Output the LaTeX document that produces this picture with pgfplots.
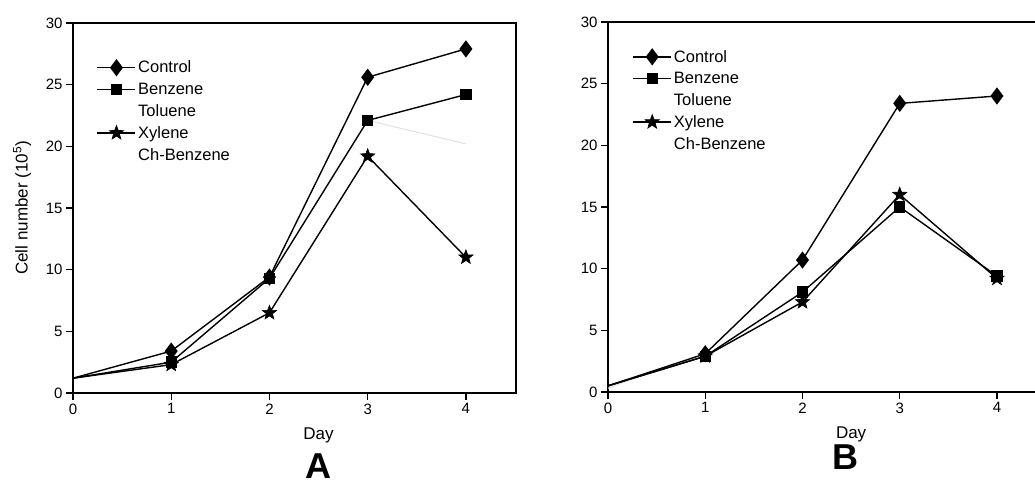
\documentclass[border=0pt]{standalone}
\usepackage{pgfplots}
\pgfplotsset{compat=1.18}
\usepackage{fontspec}
\setmainfont{Liberation Sans}

% filled five-point star
\pgfdeclareplotmark{fstar}{%
  \pgfpathmoveto{\pgfpointpolar{90}{\pgfplotmarksize}}%
  \pgfpathlineto{\pgfpointpolar{126}{0.42\pgfplotmarksize}}%
  \pgfpathlineto{\pgfpointpolar{162}{\pgfplotmarksize}}%
  \pgfpathlineto{\pgfpointpolar{198}{0.42\pgfplotmarksize}}%
  \pgfpathlineto{\pgfpointpolar{234}{\pgfplotmarksize}}%
  \pgfpathlineto{\pgfpointpolar{270}{0.42\pgfplotmarksize}}%
  \pgfpathlineto{\pgfpointpolar{306}{\pgfplotmarksize}}%
  \pgfpathlineto{\pgfpointpolar{342}{0.42\pgfplotmarksize}}%
  \pgfpathlineto{\pgfpointpolar{18}{\pgfplotmarksize}}%
  \pgfpathlineto{\pgfpointpolar{54}{0.42\pgfplotmarksize}}%
  \pgfpathclose
  \pgfusepathqfillstroke}

\pgfplotsset{
  cellaxis/.style={
    scale only axis,
    anchor=south west,
    xmin=0, ymin=0, ymax=30,
    xtick={0,1,2,3,4}, ytick={0,5,...,30},
    tick pos=left, tick align=outside,
    major tick length=7pt,
    axis line style={line width=1.8pt},
    every tick/.style={black, line width=1.2pt},
    /pgf/number format/assume math mode=true,
    ticklabel style={font=\fontsize{15}{15}\selectfont},
    xlabel={Day},
    every axis x label/.style={at={(axis cs:2.5,0)}, anchor=center, yshift=-42pt,
      font=\fontsize{17}{17}\selectfont},
    legend cell align=left,
    legend style={draw=none, fill=none, anchor=north west,
      font=\fontsize{16.5}{16.5}\selectfont, row sep=4.5pt,
      inner sep=0pt},
    legend image code/.code={%
      \draw[mark repeat=2,mark phase=2] plot coordinates {(0pt,0pt)(19pt,0pt)(38pt,0pt)};},
  },
  % day 0 is drawn without a mark
  ctrl/.style={black, line width=1.4pt, mark=diamond*, mark size=7.5pt, mark phase=2, mark options={solid}},
  benz/.style={black, line width=1.4pt, mark=square*, mark size=5pt, mark phase=2},
  xyl/.style={black, line width=1.4pt, mark=fstar, mark size=7.5pt, mark phase=2, mark options={line width=0.6pt}},
  faint/.style={black!12, line width=1pt, forget plot},
}

\begin{document}
\begin{tikzpicture}
\useasboundingbox (0,0) rectangle (1035pt,486pt);

% panel A
\begin{axis}[cellaxis, at={(73pt,93pt)}, width=443pt, height=370pt, xmax=4.51,
  ylabel={Cell number (10\textsuperscript{5})},
  every axis y label/.style={at={(axis description cs:-0.115,0.5)}, rotate=90, anchor=center,
    font=\fontsize{17}{17}\selectfont},
  legend style={at={(axis cs:0.24,27.1)}}]
  \addplot[faint] coordinates {(3,22.1)(4,20.2)};
  \addplot[ctrl] coordinates {(0,1.2)(1,3.4)(2,9.4)(3,25.6)(4,27.9)};
  \addlegendentry{Control}
  \addplot[benz] coordinates {(0,1.2)(1,2.5)(2,9.3)(3,22.1)(4,24.2)};
  \addlegendentry{Benzene}
  \addlegendimage{empty legend}
  \addlegendentry{Toluene}
  \addplot[xyl] coordinates {(0,1.2)(1,2.3)(2,6.5)(3,19.2)(4,11.0)};
  \addlegendentry{Xylene}
  \addlegendimage{empty legend}
  \addlegendentry{Ch-Benzene}
\end{axis}

% panel B
\begin{axis}[cellaxis, at={(608pt,94pt)}, width=437.6pt, height=370pt, xmax=4.5,
  legend style={at={(axis cs:0.25,27.9)}}]
  \addplot[faint] coordinates {(0,0.3)(0.3,1.2)};
  \addplot[ctrl] coordinates {(0,0.5)(1,3.1)(2,10.7)(3,23.4)(4,24.0)};
  \addlegendentry{Control}
  \addplot[benz] coordinates {(0,0.5)(1,2.9)(2,8.1)(3,15.0)(4,9.4)};
  \addlegendentry{Benzene}
  \addlegendimage{empty legend}
  \addlegendentry{Toluene}
  \addplot[xyl] coordinates {(0,0.5)(1,2.9)(2,7.3)(3,16.0)(4,9.2)};
  \addlegendentry{Xylene}
  \addlegendimage{empty legend}
  \addlegendentry{Ch-Benzene}
\end{axis}

\node[font=\fontsize{36}{36}\selectfont\bfseries] at (318pt,20pt) {A};
\node[font=\fontsize{36}{36}\selectfont\bfseries] at (845pt,29pt) {B};
\end{tikzpicture}
\end{document}
